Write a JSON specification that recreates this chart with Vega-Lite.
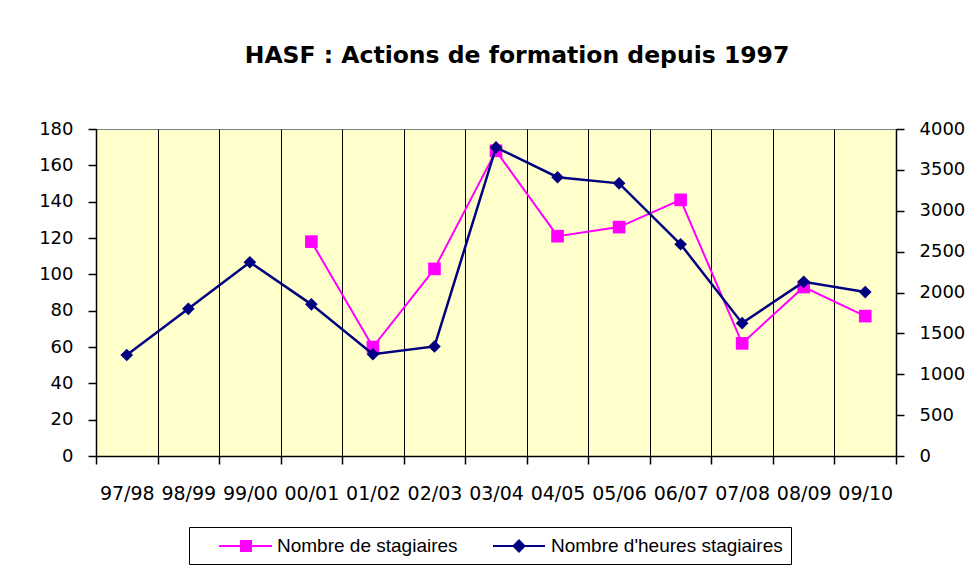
{
  "$schema": "https://vega.github.io/schema/vega-lite/v6.json",
  "width": 800,
  "height": 327,
  "autosize": "none",
  "padding": {"left": 96, "top": 129, "right": 83, "bottom": 116},
  "background": "white",
  "config": {
    "view": {"fill": "#FFFFCC", "stroke": "#808080", "strokeWidth": 1},
    "font": "DejaVu Sans"
  },
  "title": {
    "text": "HASF : Actions de formation depuis 1997",
    "font": "DejaVu Sans",
    "fontWeight": "bold",
    "fontSize": 23.5,
    "color": "black",
    "anchor": "middle",
    "frame": "group",
    "baseline": "alphabetic",
    "dx": 21,
    "offset": 34
  },
  "data": {
    "values": [
      {"annee": "97/98", "stagiaires": null, "heures": 1235},
      {"annee": "98/99", "stagiaires": null, "heures": 1800},
      {"annee": "99/00", "stagiaires": null, "heures": 2370},
      {"annee": "00/01", "stagiaires": 118, "heures": 1855},
      {"annee": "01/02", "stagiaires": 60, "heures": 1245},
      {"annee": "02/03", "stagiaires": 103, "heures": 1340},
      {"annee": "03/04", "stagiaires": 168, "heures": 3775},
      {"annee": "04/05", "stagiaires": 121, "heures": 3410},
      {"annee": "05/06", "stagiaires": 126, "heures": 3335},
      {"annee": "06/07", "stagiaires": 141, "heures": 2590},
      {"annee": "07/08", "stagiaires": 62, "heures": 1625},
      {"annee": "08/09", "stagiaires": 93, "heures": 2130},
      {"annee": "09/10", "stagiaires": 77, "heures": 2005}
    ]
  },
  "encoding": {
    "x": {
      "field": "annee",
      "type": "ordinal",
      "sort": null,
      "scale": {"type": "band", "paddingInner": 0, "paddingOuter": 0},
      "axis": {
        "title": null,
        "labelAngle": 0,
        "tickBand": "extent",
        "grid": true,
        "gridColor": "black",
        "gridOpacity": 1,
        "gridWidth": 1,
        "domainColor": "black",
        "domainWidth": 1.5,
        "tickColor": "black",
        "tickSize": 8,
        "tickWidth": 1.5,
        "labelFont": "DejaVu Sans",
        "labelFontSize": 19,
        "labelColor": "black",
        "labelPadding": 20
      }
    }
  },
  "layer": [
    {
      "encoding": {
        "y": {
          "field": "stagiaires",
          "type": "quantitative",
          "scale": {"domain": [0, 180], "nice": false, "zero": true},
          "axis": {
            "title": null,
            "orient": "left",
            "values": [0, 20, 40, 60, 80, 100, 120, 140, 160, 180],
            "grid": false,
            "domainColor": "black",
            "domainWidth": 1.5,
            "tickColor": "black",
            "tickSize": 8,
            "tickWidth": 1.5,
            "labelFont": "DejaVu Sans",
            "labelFontSize": 18,
            "labelColor": "black",
            "labelPadding": 15
          }
        },
        "color": {
          "datum": "Nombre de stagiaires",
          "scale": {
            "domain": ["Nombre de stagiaires", "Nombre d'heures stagiaires"],
            "range": ["#FF00FF", "#000080"]
          },
          "legend": {
            "title": null,
            "orient": "none",
            "legendX": 93,
            "legendY": 398,
            "direction": "horizontal",
            "strokeColor": "black",
            "fillColor": "white",
            "padding": 8,
            "columnPadding": 13,
            "labelOffset": 58,
            "labelLimit": 600,
            "labelFont": "Liberation Sans",
            "labelFontSize": 19,
            "labelColor": "black",
            "labelExpr": "datum.value === 'Nombre de stagiaires' ? datum.label : datum.label + '\u00a0\u00a0\u00a0'",
            "symbolSize": 400,
            "symbolStrokeWidth": 2,
            "encode": {
              "symbols": {
                "update": {
                  "shape": {"signal": "datum.value === 'Nombre de stagiaires' ? 'M1.1,0H6.4M3.3,-0.5H4.3V0.5H3.3Z' : 'M1.1,0H6.3M3.7,-0.55L4.25,0L3.7,0.55L3.15,0Z'"},
                  "fill": {"signal": "scale('color', datum.value)"},
                  "stroke": {"signal": "scale('color', datum.value)"},
                  "strokeWidth": {"value": 2},
                  "opacity": {"value": 1}
                }
              }
            }
          }
        }
      },
      "layer": [
        {"mark": {"type": "line", "strokeWidth": 2}},
        {"mark": {"type": "point", "shape": "square", "filled": true, "size": 160, "opacity": 1}}
      ]
    },
    {
      "encoding": {
        "y": {
          "field": "heures",
          "type": "quantitative",
          "scale": {"domain": [0, 4000], "nice": false, "zero": true},
          "axis": {
            "title": null,
            "orient": "right",
            "format": "d",
            "values": [0, 500, 1000, 1500, 2000, 2500, 3000, 3500, 4000],
            "grid": false,
            "domainColor": "black",
            "domainWidth": 1.5,
            "tickColor": "black",
            "tickSize": 8,
            "tickWidth": 1.5,
            "labelFont": "DejaVu Sans",
            "labelFontSize": 18,
            "labelColor": "black",
            "labelPadding": 15
          }
        },
        "color": {"datum": "Nombre d'heures stagiaires"}
      },
      "layer": [
        {"mark": {"type": "line", "strokeWidth": 2.5}},
        {"mark": {"type": "point", "shape": "diamond", "filled": true, "size": 160, "opacity": 1}}
      ]
    }
  ],
  "resolve": {"scale": {"y": "independent"}}
}
